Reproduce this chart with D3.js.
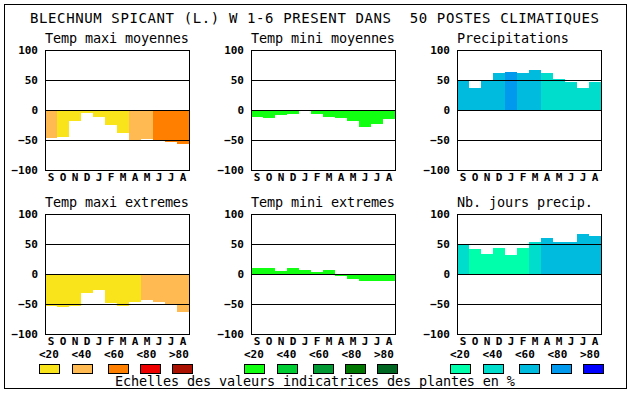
<!DOCTYPE html>
<html><head><meta charset="utf-8">
<script src="https://cdn.jsdelivr.net/npm/d3@7"></script>
<style>
html,body{margin:0;padding:0;background:#fff;}
svg{display:block;}
text{font-family:"DejaVu Sans Mono","Liberation Mono",monospace;fill:#000;}
</style></head>
<body>
<script>
// ---- data ----
const mainTitle = "BLECHNUM SPICANT (L.) W 1-6 PRESENT DANS  50 POSTES CLIMATIQUES";
const footerText = "Echelles des valeurs indicatrices des plantes en %";
const months = ["S","O","N","D","J","F","M","A","M","J","J","A"];
const yTicks = [-100, -50, 0, 50, 100];
const gridValues = [50, 0, -50];
const legendLabels = ["<20", "<40", "<60", "<80", ">80"];

const heatColors  = ["#f9e41b", "#ffbb52", "#ff8000", "#ee0000", "#aa1100"];
const coldColors  = ["#11ff11", "#00cc33", "#009933", "#007700", "#006622"];
const waterColors = ["#00ffaa", "#00ddcc", "#00bbdd", "#0099ee", "#0000ff"];

const panelTitles = ["Temp maxi moyennes", "Temp mini moyennes", "Precipitations",
                     "Temp maxi extremes", "Temp mini extremes", "Nb. jours precip."];

const tmaxMoyValues  = [-46, -45, -18, -5, -11, -25, -38, -50, -48, -50, -53, -56];
const tmaxMoyClasses = [1, 0, 0, 0, 0, 0, 0, 1, 1, 2, 2, 2];

const tminMoyValues  = [-11, -13, -8, -6, 0, -6, -11, -13, -18, -28, -23, -15];
const tminMoyClasses = [0, 0, 0, 0, 0, 0, 0, 0, 0, 0, 0, 0];

const precipValues   = [50, 37, 50, 62, 64, 62, 66, 62, 52, 47, 36, 47];
const precipClasses  = [2, 2, 2, 2, 3, 2, 2, 1, 1, 1, 1, 1];

const tmaxExtValues  = [-53, -55, -53, -31, -27, -48, -53, -46, -43, -46, -52, -63];
const tmaxExtClasses = [0, 0, 0, 0, 0, 0, 0, 0, 1, 1, 1, 1];

const tminExtValues  = [10, 10, 5, 10, 7, 4, 7, -3, -8, -11, -11, -11];
const tminExtClasses = [0, 0, 0, 0, 0, 0, 0, 0, 0, 0, 0, 0];

const joursValues    = [48, 42, 34, 44, 32, 44, 54, 60, 54, 54, 67, 64];
const joursClasses   = [1, 0, 0, 0, 0, 0, 1, 2, 2, 2, 2, 2];

// ---- layout ----
const W = 630, H = 394;
const panelLefts = [45, 251, 457];
const panelTops = [50, 214];
const PW = 144, PH = 120;

const panels = [
  {title: panelTitles[0], values: tmaxMoyValues, classes: tmaxMoyClasses, palette: heatColors},
  {title: panelTitles[1], values: tminMoyValues, classes: tminMoyClasses, palette: coldColors},
  {title: panelTitles[2], values: precipValues,  classes: precipClasses,  palette: waterColors},
  {title: panelTitles[3], values: tmaxExtValues, classes: tmaxExtClasses, palette: heatColors},
  {title: panelTitles[4], values: tminExtValues, classes: tminExtClasses, palette: coldColors},
  {title: panelTitles[5], values: joursValues,   classes: joursClasses,   palette: waterColors}
];

const svg = d3.select("body").append("svg").attr("width", W).attr("height", H);
svg.append("rect").attr("width", W).attr("height", H).attr("fill", "#fff");

// outer frame
svg.append("rect").attr("x", 4.5).attr("y", 4.5).attr("width", 622).attr("height", 384)
  .attr("fill", "none").attr("stroke", "#000").attr("stroke-width", 1);

svg.append("text").attr("x", 30).attr("y", 23)
  .style("white-space", "pre")
  .attr("font-size", 14).attr("textLength", 569).attr("lengthAdjust", "spacing")
  .text(mainTitle);

const x = d3.scaleBand().domain(d3.range(12)).range([0, PW]).padding(0);
const y = d3.scaleLinear().domain([-100, 100]).range([PH, 0]);

panels.forEach((p, i) => {
  const col = i % 3, row = Math.floor(i / 3);
  const g = svg.append("g").attr("transform", `translate(${panelLefts[col]},${panelTops[row]})`);

  g.append("text").attr("x", 0).attr("y", -7)
    .attr("font-size", 13.5).attr("textLength", p.title.length * 8).attr("lengthAdjust", "spacing")
    .text(p.title);

  g.selectAll("rect.bar").data(p.values).join("rect")
    .attr("class", "bar")
    .attr("x", (d, k) => x(k))
    .attr("width", x.bandwidth())
    .attr("y", d => y(Math.max(d, 0)))
    .attr("height", d => Math.abs(y(d) - y(0)))
    .attr("fill", (d, k) => p.palette[p.classes[k]])
    .attr("shape-rendering", "crispEdges");

  g.selectAll("line.grid").data(gridValues).join("line")
    .attr("class", "grid")
    .attr("x1", 0).attr("x2", PW)
    .attr("y1", d => Math.round(y(d)) + 0.5).attr("y2", d => Math.round(y(d)) + 0.5)
    .attr("stroke", "#000").attr("stroke-width", 1);

  g.append("rect").attr("x", 0.5).attr("y", 0.5).attr("width", PW).attr("height", PH)
    .attr("fill", "none").attr("stroke", "#000").attr("stroke-width", 1);

  const ya = g.append("g").call(d3.axisLeft(y).tickValues(yTicks).tickSize(0).tickPadding(7));
  ya.select(".domain").remove();
  ya.selectAll("text").attr("font-family", "DejaVu Sans Mono").attr("font-size", 11)
    .attr("font-weight", "bold").attr("fill", "#000");

  const xa = g.append("g").attr("transform", `translate(0,${PH})`)
    .call(d3.axisBottom(x).tickFormat(k => months[k]).tickSize(0).tickPadding(3));
  xa.select(".domain").remove();
  xa.selectAll("text").attr("font-family", "DejaVu Sans Mono").attr("font-size", 11)
    .attr("font-weight", "bold").attr("fill", "#000");
});

// legend
const legendStarts = [39, 244, 450];
const palettes = [heatColors, coldColors, waterColors];
const labelX = d3.scalePoint().domain(d3.range(5)).range([0, 130]);
const swatchOffsets = [0, 33, 69, 101, 133];
palettes.forEach((pal, gi) => {
  const lg = svg.append("g").attr("transform", `translate(${legendStarts[gi]},0)`);
  lg.selectAll("text").data(legendLabels).join("text")
    .attr("x", (d, k) => labelX(k)).attr("y", 358)
    .attr("font-size", 11).attr("font-weight", "bold")
    .text(d => d);
  lg.selectAll("rect").data(pal).join("rect")
    .attr("x", (d, k) => swatchOffsets[k] + 0.5).attr("y", 364.5)
    .attr("width", 20).attr("height", 9)
    .attr("fill", d => d).attr("stroke", "#000").attr("stroke-width", 1);
});

svg.append("text").attr("x", 115).attr("y", 386)
  .attr("font-size", 13.5).attr("textLength", 400).attr("lengthAdjust", "spacing")
  .text(footerText);
</script>
</body></html>
